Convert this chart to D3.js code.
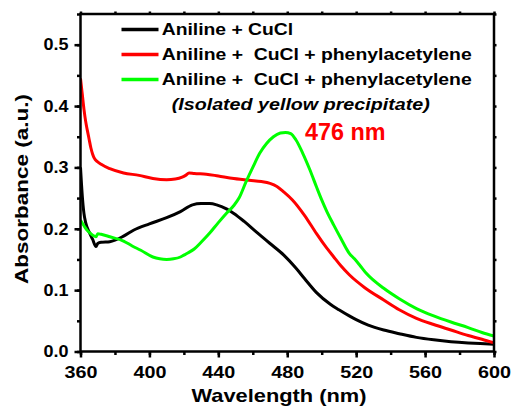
<!DOCTYPE html>
<html>
<head>
<meta charset="utf-8">
<script src="https://cdn.jsdelivr.net/npm/d3@7"></script>
<style>
  body { margin: 0; background: #fff; }
  text { font-family: Arial, "Liberation Sans", sans-serif; font-weight: bold; }
</style>
</head>
<body>
<script>
var width = 511;
var height = 410;

// Aniline + CuCl
var wlBlack = [360,361,362,363,365,367,369,370,372,377,385,391,400,410,418,425,430,435,439,445,449,455,462,470,478,485,490,497,505,510,516,520,527,536,545,555,565,575,585,592,600];
var absBlack = [0.30,0.255,0.225,0.21,0.195,0.183,0.171,0.176,0.178,0.179,0.188,0.198,0.208,0.218,0.228,0.239,0.241,0.241,0.239,0.232,0.225,0.212,0.195,0.176,0.157,0.136,0.119,0.096,0.077,0.068,0.058,0.052,0.043,0.035,0.029,0.023,0.019,0.016,0.014,0.013,0.012];

// Aniline + CuCl + phenylacetylene
var wlRed = [360,361,362,363,364,365,366,367,368,370,372,377,385,394,402,410,415,419,421,423,426,433,440,449,458,465,470,474,478,483,490,497,502,507,511,516,525,536,545,555,565,575,585,593,600];
var absRed = [0.445,0.42,0.395,0.375,0.36,0.346,0.332,0.322,0.315,0.309,0.305,0.298,0.291,0.287,0.282,0.280,0.281,0.284,0.287,0.291,0.290,0.289,0.286,0.282,0.279,0.277,0.274,0.269,0.260,0.247,0.222,0.192,0.172,0.154,0.140,0.125,0.104,0.084,0.068,0.054,0.044,0.035,0.026,0.020,0.014];

// isolated yellow precipitate
var wlGreen = [360,362,364,366,368,369,370,372,377,385,390,395,402,406,410,414,418,420,422,426,430,435,440,445,449,452,456,460,464,468,472,476,479,482,485,489,493,497,500,503,507,511,516,519,522,526,536,545,555,565,575,585,593,600];
var absGreen = [0.214,0.205,0.197,0.192,0.188,0.187,0.192,0.191,0.187,0.18,0.172,0.165,0.154,0.151,0.150,0.151,0.154,0.157,0.160,0.167,0.178,0.193,0.210,0.226,0.238,0.250,0.276,0.300,0.323,0.339,0.350,0.356,0.357,0.355,0.345,0.323,0.297,0.268,0.247,0.228,0.206,0.185,0.160,0.151,0.141,0.127,0.103,0.086,0.070,0.058,0.048,0.039,0.031,0.025];

var xTicks = [360,400,440,480,520,560,600];
var yTicks = [0.0,0.1,0.2,0.3,0.4,0.5];
var legendLabels = ["Aniline + CuCl", "Aniline +  CuCl + phenylacetylene", "Aniline +  CuCl + phenylacetylene"];
var colors = ["#000000", "#ff0000", "#00ff00"];

var plotLeft = 80.5, plotRight = 494, plotTop = 14, plotBottom = 351.5;

var x = d3.scaleLinear().domain([360, 600]).range([plotLeft, plotRight]);
var y = d3.scaleLinear().domain([0, 0.55]).range([plotBottom, plotTop]);

var svg = d3.select("body")
  .append("svg")
  .attr("width", width)
  .attr("height", height);

var series = [
  {wl: wlBlack, a: absBlack},
  {wl: wlRed, a: absRed},
  {wl: wlGreen, a: absGreen}
];

var line = d3.line()
  .x(function(d) { return x(d[0]); })
  .y(function(d) { return y(d[1]); })
  .curve(d3.curveMonotoneX);

svg.append("clipPath").attr("id", "clip")
  .append("rect")
  .attr("x", plotLeft).attr("y", plotTop)
  .attr("width", plotRight - plotLeft).attr("height", plotBottom - plotTop);

svg.append("g")
  .attr("clip-path", "url(#clip)")
  .selectAll("path")
  .data(series)
  .enter()
  .append("path")
  .attr("d", function(s) { return line(d3.zip(s.wl, s.a)); })
  .attr("fill", "none")
  .attr("stroke", function(s, i) { return colors[i]; })
  .attr("stroke-width", 3)
  .attr("stroke-linejoin", "round");

// axes
function styleAxis(g) {
  g.select(".domain").remove();
  g.selectAll("line").attr("stroke", "#000").attr("stroke-width", 2.5);
}

var xMinor = d3.range(360, 601, 20);
var yMinor = d3.range(0, 0.551, 0.05);

svg.append("g")
  .attr("transform", "translate(0," + plotBottom + ")")
  .call(d3.axisBottom(x).tickValues(xMinor).tickSize(3.5).tickFormat(""))
  .call(styleAxis);

var xAxis = svg.append("g")
  .attr("transform", "translate(0," + plotBottom + ")")
  .call(d3.axisBottom(x).tickValues(xTicks).tickSize(6).tickPadding(8).tickFormat(d3.format("d")))
  .call(styleAxis);
xAxis.selectAll("text")
  .attr("fill", "#000")
  .style("font-size", "17px")
  .attr("textLength", 33)
  .attr("lengthAdjust", "spacingAndGlyphs");

svg.append("g")
  .attr("transform", "translate(" + plotLeft + ",0)")
  .call(d3.axisLeft(y).tickValues(yMinor).tickSize(3.5).tickFormat(""))
  .call(styleAxis);

var yAxis = svg.append("g")
  .attr("transform", "translate(" + plotLeft + ",0)")
  .call(d3.axisLeft(y).tickValues(yTicks).tickSize(6).tickPadding(6).tickFormat(d3.format(".1f")))
  .call(styleAxis);
yAxis.selectAll("text")
  .attr("fill", "#000")
  .style("font-size", "16.5px")
  .attr("textLength", 25)
  .attr("lengthAdjust", "spacingAndGlyphs");

svg.append("g")
  .attr("transform", "translate(0," + plotTop + ")")
  .call(d3.axisTop(x).tickValues(xMinor).tickSize(2.5).tickFormat(""))
  .call(styleAxis);

svg.append("g")
  .attr("transform", "translate(" + plotRight + ",0)")
  .call(d3.axisRight(y).tickValues(yMinor).tickSize(2.5).tickFormat(""))
  .call(styleAxis);

svg.append("rect")
  .attr("x", plotLeft).attr("y", plotTop)
  .attr("width", plotRight - plotLeft).attr("height", plotBottom - plotTop)
  .attr("fill", "none")
  .attr("stroke", "#000")
  .attr("stroke-width", 2.5);

// axis titles
svg.append("text")
  .attr("x", 279)
  .attr("y", 401.5)
  .attr("text-anchor", "middle")
  .style("font-size", "18.5px")
  .attr("textLength", 175)
  .attr("lengthAdjust", "spacingAndGlyphs")
  .text("Wavelength (nm)");

svg.append("text")
  .attr("transform", "translate(28,189) rotate(-90)")
  .attr("text-anchor", "middle")
  .style("font-size", "18.5px")
  .attr("textLength", 190)
  .attr("lengthAdjust", "spacingAndGlyphs")
  .text("Absorbance (a.u.)");

// legend
var legendWidths = [131.5, 310, 310];
var legend = svg.selectAll("g.legend")
  .data(legendLabels)
  .enter()
  .append("g")
  .attr("transform", function(d, i) { return "translate(0," + (i * 25) + ")"; });

legend.append("line")
  .attr("x1", 121.5).attr("x2", 158.5)
  .attr("y1", 29.5).attr("y2", 29.5)
  .attr("stroke", function(d, i) { return colors[i]; })
  .attr("stroke-width", 3.5);

legend.append("text")
  .attr("x", 161.7)
  .attr("y", 35)
  .style("font-size", "16.5px")
  .style("white-space", "pre")
  .attr("textLength", function(d, i) { return legendWidths[i]; })
  .attr("lengthAdjust", "spacingAndGlyphs")
  .text(function(d) { return d; });

svg.append("text")
  .attr("x", 171.7)
  .attr("y", 110)
  .style("font-size", "16.5px")
  .style("font-style", "italic")
  .attr("textLength", 258)
  .attr("lengthAdjust", "spacingAndGlyphs")
  .text("(Isolated yellow precipitate)");

svg.append("text")
  .attr("x", 305)
  .attr("y", 140)
  .attr("fill", "#ff0000")
  .style("font-size", "23px")
  .attr("textLength", 80.5)
  .attr("lengthAdjust", "spacingAndGlyphs")
  .text("476 nm");
</script>
</body>
</html>
